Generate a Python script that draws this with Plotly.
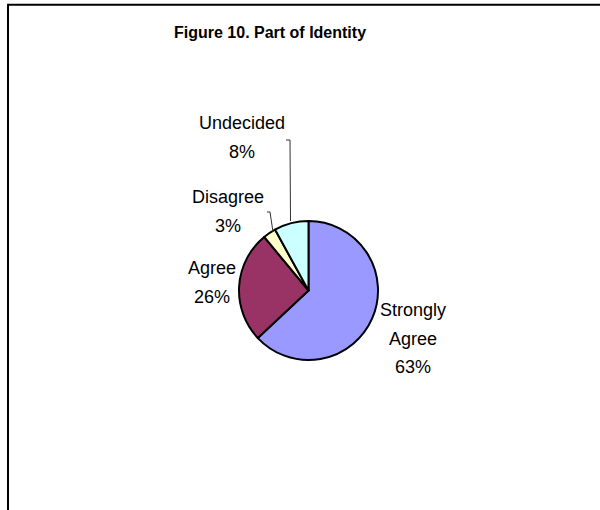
import plotly.graph_objects as go

labels = ["Strongly Agree", "Agree", "Disagree", "Undecided"]
values = [63, 26, 3, 8]
colors = ["#9999FF", "#993366", "#FFFFCC", "#CCFFFF"]
title_text = "Figure 10. Part of Identity"

W, H = 600, 510
cx, cy, r = 308.5, 290.5, 69.5

fig = go.Figure(go.Pie(
    labels=labels, values=values, sort=False, direction="clockwise", rotation=0,
    marker=dict(colors=colors, line=dict(color="black", width=2)),
    textinfo="none", hoverinfo="label+percent", showlegend=False,
    domain=dict(x=[(cx - r) / W, (cx + r) / W], y=[(H - cy - r) / H, (H - cy + r) / H]),
))

# label anchor (centre x, first-line y) in pixels
label_pos = {
    "Strongly Agree": (413, 310),
    "Agree": (212, 268),
    "Disagree": (228, 197),
    "Undecided": (242, 123),
}
line_gap = 28.5
font = dict(family="Liberation Sans, Arial, sans-serif", size=18, color="black")
annotations = []
total = sum(values)
for lab, v in zip(labels, values):
    lines = lab.split(" ") + [f"{round(100 * v / total)}%"]
    x0, y0 = label_pos[lab]
    for i, t in enumerate(lines):
        annotations.append(dict(
            x=x0 / W, y=1 - (y0 + i * line_gap) / H, xref="paper", yref="paper",
            text=t, showarrow=False, font=font, xanchor="center", yanchor="middle",
        ))

annotations.append(dict(
    x=269.5 / W, y=1 - 33 / H, xref="paper", yref="paper", text=f"<b>{title_text}</b>",
    showarrow=False, font=dict(family="Liberation Sans, Arial, sans-serif", size=16, color="black"),
    xanchor="center", yanchor="middle",
))

def px(x, y):
    return x / W, 1 - y / H

shapes = [
    dict(type="rect", xref="paper", yref="paper", x0=8 / W, y0=-0.05, x1=1.05, y1=1 - 4.8 / H,
         line=dict(color="black", width=2), fillcolor="rgba(0,0,0,0)"),
]
# leader lines
for pts in ([(286, 140), (290, 140), (290.5, 221)], [(267, 212), (270, 212), (273, 232)]):
    path = "M " + " L ".join(f"{px(x, y)[0]},{px(x, y)[1]}" for x, y in pts)
    shapes.append(dict(type="path", xref="paper", yref="paper", path=path,
                       line=dict(color="#333333", width=1)))

fig.update_layout(
    width=W, height=H, margin=dict(l=0, r=0, t=0, b=0),
    paper_bgcolor="white", plot_bgcolor="white",
    annotations=annotations, shapes=shapes,
)
fig.write_html("out.html")
